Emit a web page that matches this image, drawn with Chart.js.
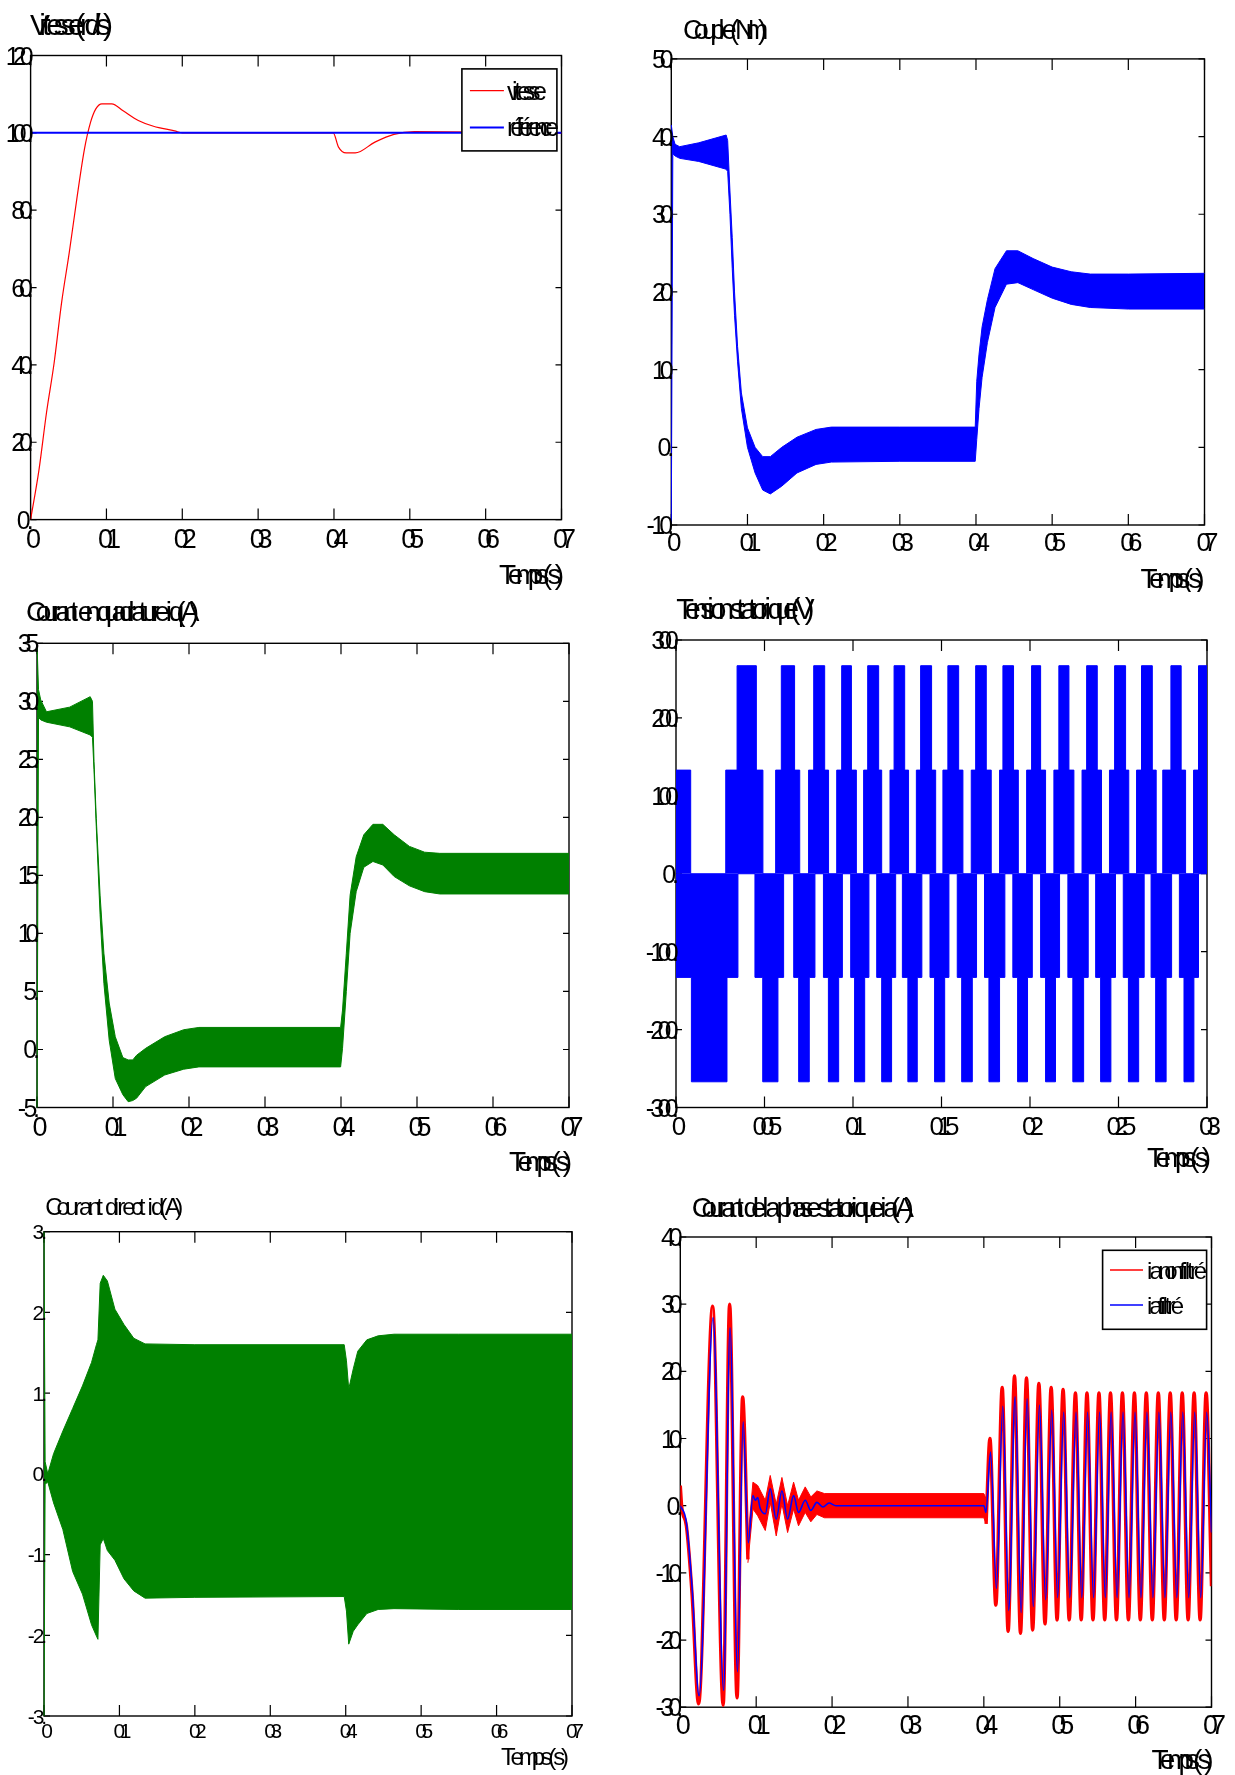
<!DOCTYPE html>
<html>
<head>
<meta charset="utf-8">
<title>Commande vectorielle - résultats de simulation</title>
<script src="https://cdn.jsdelivr.net/npm/chart.js@4.4.1/dist/chart.umd.min.js"></script>
<style>
  html, body { margin: 0; padding: 0; background: #fff; }
  #page { position: relative; width: 1235px; height: 1775px; overflow: hidden; }
  #page canvas { position: absolute; }
</style>
</head>
<body>
<div id="page">
  <canvas id="vitesse" width="617" height="592" style="left:0;top:0"></canvas>
  <canvas id="couple" width="618" height="592" style="left:617px;top:0"></canvas>
  <canvas id="iq" width="617" height="588" style="left:0;top:592px"></canvas>
  <canvas id="tension" width="618" height="588" style="left:617px;top:592px"></canvas>
  <canvas id="id" width="617" height="595" style="left:0;top:1180px"></canvas>
  <canvas id="ia" width="618" height="595" style="left:617px;top:1180px"></canvas>
</div>
<script>
// time axes
const tempsTicks = [0, 0.1, 0.2, 0.3, 0.4, 0.5, 0.6, 0.7];
const tempsLabels = ['0', '01', '02', '03', '04', '05', '06', '07'];
const tensionTicks = [0, 0.05, 0.1, 0.15, 0.2, 0.25, 0.3];
const tensionLabels = ['0', '005', '01', '015', '02', '025', '03'];

// vitesse (rd/s) and its reference
const speedT = [0, 0.011, 0.021, 0.031, 0.041, 0.051, 0.061, 0.071, 0.079, 0.086, 0.094, 0.107, 0.122, 0.142, 0.162, 0.19, 0.2, 0.399, 0.406, 0.416, 0.428, 0.454, 0.479, 0.506, 0.7];
const speed = [0, 12.8, 27.7, 40.5, 56.3, 69.1, 83, 95.8, 102.7, 106.2, 107.5, 107.5, 105.7, 103.2, 101.7, 100.5, 100, 100, 96.3, 94.8, 94.8, 97.6, 99.6, 100.3, 100];
const refT = [0, 0.7];
const ref = [100, 100];

// couple (Nm): ripple band, upper and lower envelope
const torqueT = [0, 0.002, 0.005, 0.011, 0.036, 0.072, 0.074, 0.077, 0.08, 0.083, 0.087, 0.092, 0.1, 0.11, 0.12, 0.13, 0.145, 0.165, 0.19, 0.21, 0.3, 0.399, 0.401, 0.404, 0.408, 0.415, 0.425, 0.44, 0.455, 0.475, 0.5, 0.525, 0.55, 0.6, 0.7];
const torqueHi = [41.5, 40, 39, 38.7, 39.2, 40.2, 39.5, 33, 27, 20, 13, 7, 2.5, 0, -1.2, -1.2, 0, 1.3, 2.3, 2.6, 2.6, 2.6, 8.5, 12, 15.5, 19, 23, 25.3, 25.3, 24.3, 23.2, 22.6, 22.3, 22.3, 22.4];
const torqueLo = [-10, 37.8, 37.5, 37.2, 36.8, 35.8, 35.5, 30, 23, 17, 11, 5, 0, -3.3, -5.5, -6, -5, -3.3, -2.2, -1.9, -1.8, -1.8, 1, 5, 9, 13.5, 18, 21, 21.2, 20.3, 19.2, 18.4, 18, 17.8, 17.8];

// courant en quadrature iq (A)
const iqT = [0, 0.002, 0.005, 0.0125, 0.043, 0.07, 0.073, 0.075, 0.078, 0.083, 0.088, 0.095, 0.103, 0.113, 0.12, 0.126, 0.131, 0.143, 0.168, 0.193, 0.213, 0.3, 0.3995, 0.402, 0.407, 0.412, 0.42, 0.43, 0.442, 0.455, 0.47, 0.49, 0.51, 0.53, 0.6, 0.7];
const iqHi = [35, 31, 30.1, 29.1, 29.5, 30.4, 30, 24.8, 19.9, 13.3, 8.3, 4, 1.1, -0.7, -0.9, -0.9, -0.5, 0.1, 1.1, 1.7, 1.9, 1.9, 1.9, 3.4, 8.3, 13.3, 16.6, 18.5, 19.4, 19.4, 18.5, 17.5, 17, 16.9, 16.9, 16.9];
const iqLo = [-5, 28.6, 28.4, 28.2, 27.8, 27.1, 26.9, 24.1, 19.2, 11.6, 5.7, 0.8, -2.5, -3.9, -4.5, -4.4, -4.2, -3.2, -2.2, -1.7, -1.5, -1.5, -1.5, 0.1, 5, 10, 13.6, 15.7, 16.2, 15.9, 14.9, 14.1, 13.6, 13.4, 13.4, 13.4];

// tension statorique (V): switching envelope, [start time, level held until next step]
const vUpper = [[0, 133], [0.0083, 0], [0.0281, 133], [0.0345, 267], [0.0454, 133], [0.0491, 0], [0.0563, 133], [0.0595, 267], [0.067, 133], [0.0699, 0], [0.0749, 133], [0.0778, 267], [0.084, 133], [0.0862, 0], [0.0908, 133], [0.0936, 267], [0.0991, 133], [0.1019, 0], [0.106, 133], [0.1083, 267], [0.1145, 133], [0.1162, 0], [0.1209, 133], [0.1232, 267], [0.1292, 133], [0.1314, 0], [0.1358, 133], [0.1382, 267], [0.1444, 133], [0.1467, 0], [0.1508, 133], [0.1536, 267], [0.1597, 133], [0.1621, 0], [0.1668, 133], [0.1693, 267], [0.1753, 133], [0.1781, 0], [0.1828, 133], [0.1847, 267], [0.1907, 133], [0.1934, 0], [0.1981, 133], [0.2009, 267], [0.206, 133], [0.2088, 0], [0.2135, 133], [0.2163, 267], [0.222, 133], [0.2248, 0], [0.2294, 133], [0.232, 267], [0.238, 133], [0.2404, 0], [0.2449, 133], [0.2478, 267], [0.254, 133], [0.2558, 0], [0.2602, 133], [0.263, 267], [0.2691, 133], [0.2713, 0], [0.275, 133], [0.2796, 267], [0.2854, 133], [0.2879, 0], [0.2924, 133], [0.2952, 267], [0.3, 267]];
const vLower = [[0, -133], [0.0087, -267], [0.0288, -133], [0.035, 0], [0.0446, -133], [0.049, -267], [0.0576, -133], [0.0608, 0], [0.0665, -133], [0.0693, -267], [0.0753, -133], [0.0785, 0], [0.0833, -133], [0.0861, -267], [0.0919, -133], [0.094, 0], [0.0987, -133], [0.1009, -267], [0.1066, -133], [0.109, 0], [0.1134, -133], [0.1162, -267], [0.1218, -133], [0.1241, 0], [0.1279, -133], [0.131, -267], [0.1363, -133], [0.1389, 0], [0.1435, -133], [0.1461, -267], [0.1518, -133], [0.1542, 0], [0.1589, -133], [0.1614, -267], [0.1674, -133], [0.1698, 0], [0.1743, -133], [0.1768, -267], [0.1828, -133], [0.1858, 0], [0.1903, -133], [0.193, -267], [0.1986, -133], [0.2013, 0], [0.206, -133], [0.2088, -267], [0.2144, -133], [0.2167, 0], [0.2214, -133], [0.2242, -267], [0.2303, -133], [0.2329, 0], [0.2371, -133], [0.2399, -267], [0.2457, -133], [0.2483, 0], [0.2527, -133], [0.2556, -267], [0.2614, -133], [0.2645, 0], [0.2684, -133], [0.271, -267], [0.2769, -133], [0.28, 0], [0.2844, -133], [0.287, -267], [0.2926, -133], [0.2952, 0], [0.3, 0]];

// courant direct id (A)
const idT = [0, 0.0015, 0.005, 0.0127, 0.025, 0.038, 0.051, 0.063, 0.0695, 0.0715, 0.0745, 0.0786, 0.084, 0.094, 0.106, 0.119, 0.134, 0.2, 0.398, 0.401, 0.404, 0.41, 0.416, 0.428, 0.443, 0.464, 0.55, 0.7];
const idHi = [3, 0.15, 0, 0.25, 0.53, 0.81, 1.09, 1.38, 1.6, 1.66, 2.36, 2.46, 2.39, 2.04, 1.85, 1.68, 1.61, 1.6, 1.6, 1.4, 1.05, 1.3, 1.52, 1.66, 1.71, 1.73, 1.73, 1.73];
const idLo = [-3, -0.13, -0.1, -0.36, -0.69, -1.21, -1.49, -1.87, -2.01, -2.05, -0.88, -0.8, -0.95, -1.07, -1.3, -1.45, -1.54, -1.53, -1.52, -1.7, -2.11, -1.95, -1.87, -1.73, -1.68, -1.67, -1.68, -1.68];

// courant de phase ia (A): raw current peaks, filtered current peaks, PWM ripple band [t, hi, lo]
const iaRaw = [[0, 3], [0.002, -0.3], [0.008, -3], [0.0154, -13], [0.0241, -29.5], [0.0426, 29.7], [0.0565, -29.7], [0.065, 30], [0.0748, -28.6], [0.0821, 16.2], [0.0891, -8], [0.2, null], [0.403, -2.7], [0.408, 10], [0.4158, -14.8], [0.4242, 17.6], [0.432, -18.7], [0.4404, 19.3], [0.4483, -19], [0.4562, 19], [0.4643, -18.5], [0.4725, 18.2], [0.4806, -17.6], [0.4887, 17.6], [0.4965, -17], [0.5044, 17.3], [0.5125, -17], [0.5207, 16.8], [0.5283, -17], [0.5359, 16.8], [0.5438, -17], [0.5517, 16.8], [0.5593, -17], [0.5669, 16.8], [0.5748, -17], [0.5826, 16.8], [0.5905, -17], [0.5984, 16.8], [0.6062, -17], [0.6141, 16.8], [0.622, -17], [0.6299, 16.8], [0.6378, -17], [0.6456, 16.8], [0.6535, -17], [0.6614, 16.8], [0.6692, -17], [0.6771, 16.8], [0.685, -17], [0.6929, 16.8], [0.7, -12]];
const iaFilt = [[0, 0], [0.008, -2.5], [0.0154, -12], [0.0248, -28.3], [0.0432, 28], [0.0571, -27.5], [0.0655, 26.5], [0.0754, -24.7], [0.0828, 12.5], [0.0896, -5.5], [0.0957, 1.5], [0.0988, 0.8], [0.102, 1.2], [0.105, -0.3], [0.112, -1.2], [0.1185, 2.5], [0.1264, -2], [0.1339, 2.2], [0.1414, -2], [0.1493, 1.5], [0.1558, -1], [0.1646, 0.8], [0.172, -0.7], [0.18, 0.5], [0.188, -0.2], [0.196, 0.4], [0.205, 0], [0.4, 0], [0.4028, -1], [0.4088, 8], [0.4166, -12.3], [0.425, 14.8], [0.4328, -15.6], [0.4412, 16.2], [0.4491, -15.9], [0.457, 15.9], [0.4651, -15], [0.4733, 15], [0.4814, -14], [0.4895, 14.2], [0.4973, -13.7], [0.5052, 13.9], [0.5133, -13.7], [0.5215, 13.9], [0.5291, -13.7], [0.5367, 13.9], [0.5446, -13.7], [0.5525, 13.9], [0.5601, -13.7], [0.5677, 13.9], [0.5756, -13.7], [0.5834, 13.9], [0.5913, -13.7], [0.5992, 13.9], [0.607, -13.7], [0.6149, 13.9], [0.6228, -13.7], [0.6307, 13.9], [0.6386, -13.7], [0.6464, 13.9], [0.6543, -13.7], [0.6622, 13.9], [0.67, -13.7], [0.6779, 13.9], [0.6858, -13.7], [0.6937, 13.9], [0.7, -4]];
const iaRipple = [[0.0891, -5, -8.5], [0.0957, 3.5, -0.5], [0.102, 3, -1.5], [0.112, 0.8, -3.7], [0.1185, 4.5, 0.5], [0.1264, 0.2, -4.5], [0.1339, 4.2, 0.3], [0.1414, 0, -4], [0.1493, 3.5, -0.5], [0.1558, 0.8, -3], [0.1646, 2.8, -1], [0.172, 1.3, -2.4], [0.18, 2.2, -1.3], [0.19, 1.8, -1.8], [0.3, 1.8, -1.8], [0.4, 1.8, -1.8], [0.403, 1, -2.7]];

const RED = '#ff0000';
const BLUE = '#0000ff';
const GREEN = '#008000';
const FONT = '"Liberation Sans", Arial, Helvetica, sans-serif';

const pts = (xs, ys) => xs.map((x, i) => ({ x, y: ys[i] }));
const pairs = (list, k = 1) => list.map(p => ({ x: p[0], y: p[k] }));

// glyphs keep their size but the advances shrink so the string fits maxW
// (the exported figure fonts overlap like this)
function squish(ctx, text, x, y, size, maxW, align) {
  ctx.save();
  ctx.font = size + 'px ' + FONT;
  ctx.fillStyle = '#000';
  ctx.textAlign = 'left';
  ctx.textBaseline = 'alphabetic';
  const chars = Array.from(text);
  const offs = [];
  let acc = 0;
  chars.forEach(c => { offs.push(acc); acc += ctx.measureText(c).width; });
  const wLast = ctx.measureText(chars[chars.length - 1]).width;
  const span = offs[offs.length - 1];
  let f = 1;
  if (maxW && acc > maxW && span > 0) f = Math.max(0.25, (maxW - wLast) / span);
  const total = span * f + wLast;
  const x0 = align === 'right' ? x - total : align === 'center' ? x - total / 2 : x;
  chars.forEach((c, i) => ctx.fillText(c, x0 + offs[i] * f, y));
  ctx.restore();
}

// boxed axes with inward ticks, labels, title and legend
const matlabFrame = {
  id: 'matlabFrame',
  beforeDatasetsDraw(chart, args, o) {
    const { ctx, chartArea: { left, right, top, bottom }, scales: { x, y } } = chart;
    ctx.save();
    ctx.strokeStyle = '#000';
    ctx.lineWidth = 1.4;
    ctx.strokeRect(left, top, right - left, bottom - top);
    ctx.lineWidth = 1.2;
    ctx.beginPath();
    o.xTicks.forEach(v => {
      const px = x.getPixelForValue(v);
      ctx.moveTo(px, bottom); ctx.lineTo(px, bottom - 11);
      ctx.moveTo(px, top); ctx.lineTo(px, top + 11);
    });
    o.yTicks.forEach(v => {
      const py = y.getPixelForValue(v);
      ctx.moveTo(left, py); ctx.lineTo(left + 6, py);
      ctx.moveTo(right, py); ctx.lineTo(right - 6, py);
    });
    ctx.stroke();
    ctx.restore();
  },
  afterDraw(chart, args, o) {
    const { ctx, chartArea: { left, right, top, bottom }, scales: { x, y } } = chart;
    squish(ctx, o.title, left + o.titleDx, top + o.titleDy, o.titleFont, o.titleW, 'left');
    o.xTicks.forEach((v, i) => {
      const t = o.xLabels[i];
      squish(ctx, t, x.getPixelForValue(v) + 3, bottom + o.xDy, o.xFont,
        o.xFont * (0.55 + 0.3 * (t.length - 1)), 'center');
    });
    o.yTicks.forEach(v => {
      const t = String(v);
      squish(ctx, t + '.', left + 3, y.getPixelForValue(v) + o.yFont * 0.36, o.yFont,
        o.yFont * (0.55 + 0.22 * (t.length - 1)) + 3, 'right');
    });
    squish(ctx, 'Temps(s)', right + o.xTitleDx, bottom + o.xTitleDy, o.xTitleFont, o.xTitleW, 'right');

    const L = o.legend;
    if (!L) return;
    const bx = left + L.dx;
    const by = top + L.dy;
    ctx.save();
    ctx.fillStyle = '#fff';
    ctx.fillRect(bx, by, L.w, L.h);
    ctx.strokeStyle = '#000';
    ctx.lineWidth = 1.6;
    ctx.strokeRect(bx, by, L.w, L.h);
    L.items.forEach(it => {
      const ds = chart.data.datasets[it.ds];
      ctx.strokeStyle = ds.borderColor;
      ctx.lineWidth = it.lw;
      ctx.beginPath();
      ctx.moveTo(bx + L.lineX0, top + it.y);
      ctx.lineTo(bx + L.lineX1, top + it.y);
      ctx.stroke();
      squish(ctx, ds.label, bx + L.textX, top + it.y + L.font * 0.36, L.font, it.w, 'left');
    });
    ctx.restore();
  },
};

function band(label, color, hi, lo, extra) {
  return [
    Object.assign({ label, data: hi, borderColor: color, backgroundColor: color, borderWidth: 1, fill: false, clip: 2 }, extra),
    Object.assign({ label, data: lo, borderColor: color, backgroundColor: color, borderWidth: 1, fill: '-1', clip: 2 }, extra),
  ];
}

function plot(id, datasets, xMax, yRange, pad, frame) {
  return new Chart(document.getElementById(id), {
    type: 'line',
    data: { datasets },
    options: {
      responsive: false,
      animation: false,
      devicePixelRatio: 1,
      layout: { padding: pad },
      elements: { point: { radius: 0 }, line: { borderWidth: 1 } },
      plugins: {
        legend: { display: false },
        tooltip: { enabled: false },
        matlabFrame: frame,
      },
      scales: {
        x: { type: 'linear', min: 0, max: xMax, display: false },
        y: { type: 'linear', min: yRange[0], max: yRange[1], display: false },
      },
    },
    plugins: [matlabFrame],
  });
}

plot('vitesse', [
  { label: 'référence', data: pts(refT, ref), borderColor: BLUE, borderWidth: 2, order: 0 },
  { label: 'vitesse', data: pts(speedT, speed), borderColor: RED, borderWidth: 1.2, cubicInterpolationMode: 'monotone', order: 1 },
], 0.7, [0, 120], { left: 30.6, right: 55.5, top: 55.5, bottom: 72.4 }, {
  xTicks: tempsTicks, xLabels: tempsLabels, xFont: 27, xDy: 28,
  yTicks: [0, 20, 40, 60, 80, 100, 120], yFont: 25,
  title: 'Vitesse(rd/s)', titleFont: 30, titleW: 83, titleDx: -0.6, titleDy: -21,
  xTitleFont: 28, xTitleW: 65, xTitleDx: 2.5, xTitleDy: 64,
  legend: {
    dx: 431.3, dy: 13.4, w: 95, h: 82, font: 25, lineX0: 8, lineX1: 42, textX: 45,
    items: [{ ds: 1, y: 35.2, w: 40, lw: 1.2 }, { ds: 0, y: 71.9, w: 52, lw: 2 }],
  },
});

plot('couple', band('Couple', BLUE, pts(torqueT, torqueHi), pts(torqueT, torqueLo)),
  0.7, [-10, 50], { left: 54.3, right: 30.5, top: 58.9, bottom: 67 }, {
  xTicks: tempsTicks, xLabels: tempsLabels, xFont: 26, xDy: 26,
  yTicks: [-10, 0, 10, 20, 30, 40, 50], yFont: 25,
  title: 'Couple(Nm)', titleFont: 27, titleW: 84, titleDx: 11.7, titleDy: -19.5,
  xTitleFont: 28, xTitleW: 64, xTitleDx: 0, xTitleDy: 63,
});

plot('iq', band('iq', GREEN, pts(iqT, iqHi), pts(iqT, iqLo)),
  0.7, [-5, 35], { left: 37, right: 48, top: 51.3, bottom: 72.5 }, {
  xTicks: tempsTicks, xLabels: tempsLabels, xFont: 27, xDy: 28,
  yTicks: [-5, 0, 5, 10, 15, 20, 25, 30, 35], yFont: 25,
  title: 'Courant en quadrature iq(A)', titleFont: 28, titleW: 173, titleDx: -11, titleDy: -22,
  xTitleFont: 28, xTitleW: 63, xTitleDx: 3, xTitleDy: 63,
});

plot('tension', [
  { label: 'Tension', data: pairs(vUpper), stepped: 'before', borderColor: BLUE, backgroundColor: BLUE, fill: 'origin', clip: 2 },
  { label: 'Tension', data: pairs(vLower), stepped: 'before', borderColor: BLUE, backgroundColor: BLUE, fill: 'origin', clip: 2 },
], 0.3, [-300, 300], { left: 59, right: 28, top: 48, bottom: 72.5 }, {
  xTicks: tensionTicks, xLabels: tensionLabels, xFont: 26, xDy: 27,
  yTicks: [-300, -200, -100, 0, 100, 200, 300], yFont: 25,
  title: 'Tension statorique(V)', titleFont: 29, titleW: 138, titleDx: 0.3, titleDy: -21.5,
  xTitleFont: 28, xTitleW: 64, xTitleDx: 4, xTitleDy: 59.5,
});

plot('id', band('id', GREEN, pts(idT, idHi), pts(idT, idLo)),
  0.7, [-3, 3], { left: 44, right: 45, top: 51.7, bottom: 59 }, {
  xTicks: tempsTicks, xLabels: tempsLabels, xFont: 21, xDy: 22,
  yTicks: [-3, -2, -1, 0, 1, 2, 3], yFont: 21,
  title: 'Courant direct id(A)', titleFont: 24, titleW: 138, titleDx: 1.2, titleDy: -17,
  xTitleFont: 24, xTitleW: 68, xTitleDx: -3, xTitleDy: 49,
});

plot('ia', [
  { label: 'ia filtré', data: pairs(iaFilt), borderColor: BLUE, borderWidth: 1.6, cubicInterpolationMode: 'monotone', order: 0 },
  { label: 'ia non filtré', data: pairs(iaRaw), borderColor: RED, borderWidth: 3.4, cubicInterpolationMode: 'monotone', spanGaps: false, order: 1 },
  ...band('ia non filtré', RED, pairs(iaRipple, 1), pairs(iaRipple, 2), { order: 2 }),
], 0.7, [-30, 40], { left: 63.3, right: 23.5, top: 57, bottom: 67.8 }, {
  xTicks: tempsTicks, xLabels: tempsLabels, xFont: 27, xDy: 27,
  yTicks: [-30, -20, -10, 0, 10, 20, 30, 40], yFont: 25,
  title: 'Courant de la phase statorique ia(A)', titleFont: 28, titleW: 222, titleDx: 11.4, titleDy: -20,
  xTitleFont: 28, xTitleW: 62, xTitleDx: 2, xTitleDy: 62,
  legend: {
    dx: 422.3, dy: 13.3, w: 104, h: 79, font: 24, lineX0: 7.4, lineX1: 40.4, textX: 44.4,
    items: [{ ds: 1, y: 33, w: 60, lw: 1.5 }, { ds: 0, y: 68, w: 37, lw: 1.5 }],
  },
});
</script>
</body>
</html>
